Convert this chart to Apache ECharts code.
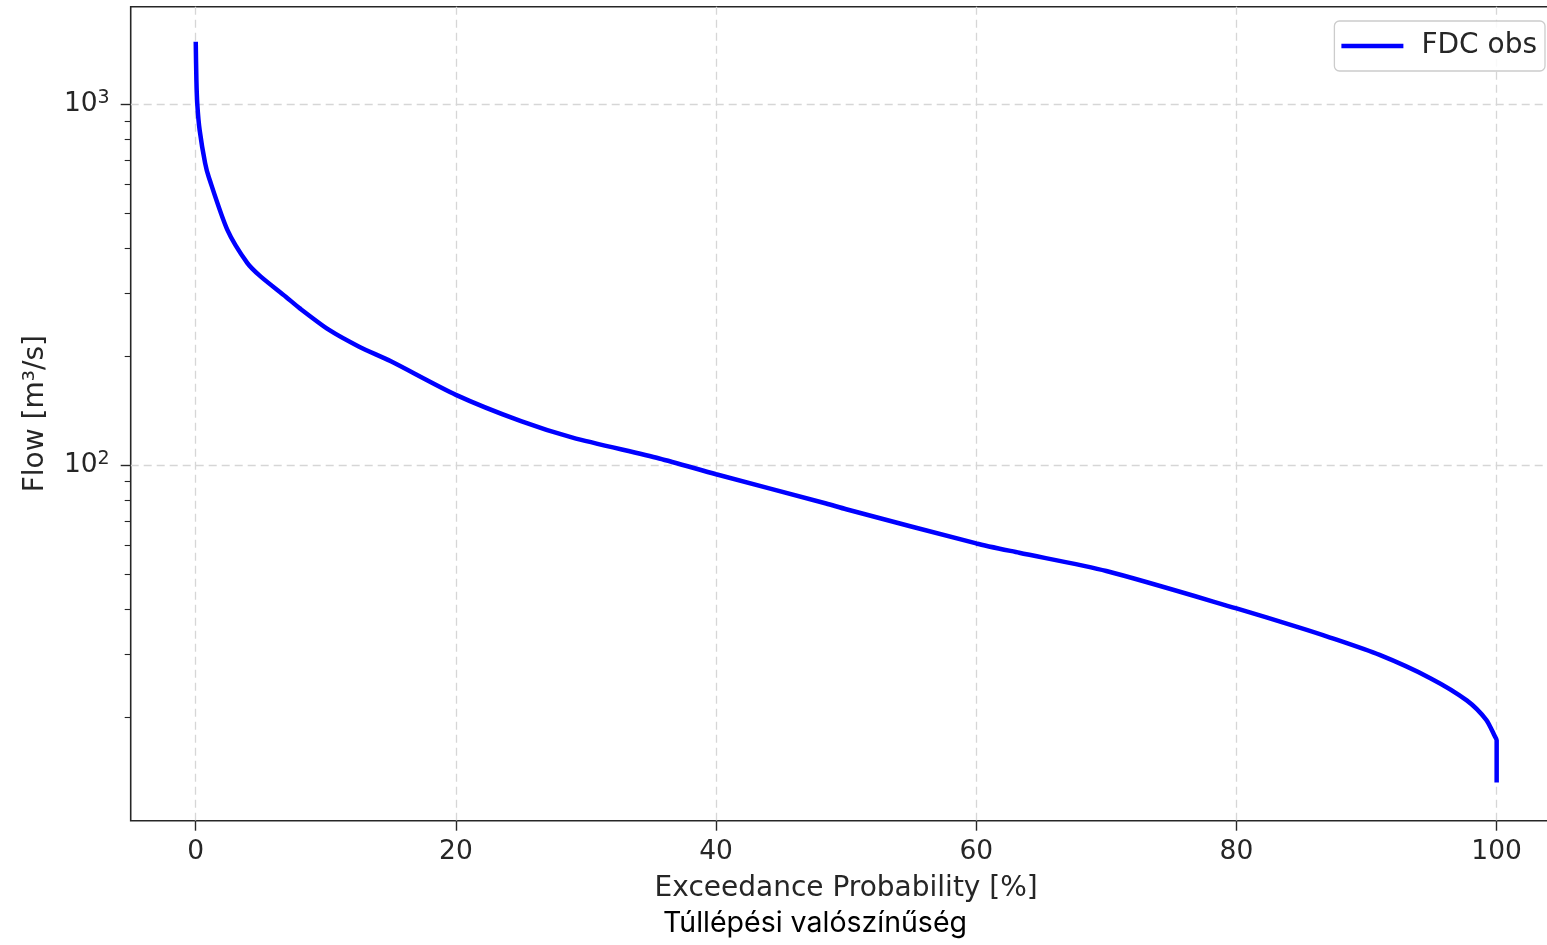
<!DOCTYPE html>
<html>
<head>
<meta charset="utf-8">
<title>Flow Duration Curve</title>
<script src="https://cdn.jsdelivr.net/npm/echarts@6/dist/echarts.min.js"></script>
<style>
  html, body { margin: 0; padding: 0; background: #ffffff; overflow: hidden; }
  #chart { width: 1547px; height: 945px; }
</style>
</head>
<body>
<div id="chart"></div>
<script>
// Observed flow duration curve: exceedance probability [%] vs. flow [m³/s]
const exceedance = [0, 0.05, 0.12, 0.3, 0.72, 1.0, 2.43, 3.97, 5, 6.92, 8, 10.25, 12.56, 15, 20, 25, 28.97, 35.63, 40, 48.46, 50, 60, 63.3, 70, 80, 84.6, 87.2, 91.0, 94.9, 97.7, 99.2, 99.87, 100, 100];
const flow = [1491, 1167, 1000, 848, 687, 629, 449, 363, 333, 293, 272, 237, 213, 194, 156.6, 132.4, 119.2, 104.4, 94.4, 78.3, 75.5, 60.7, 57.2, 50.9, 40.1, 35.7, 33.3, 29.8, 25.7, 22.3, 19.7, 17.7, 17.3, 13.2];

const xTicks = [0, 20, 40, 60, 80, 100];
const yMajorTicks = [100, 1000];
const yMinorTicks = [20, 30, 40, 50, 60, 70, 80, 90, 200, 300, 400, 500, 600, 700, 800, 900];

const seriesName = 'FDC obs';
const xTitle = 'Exceedance Probability [%]';
const yTitle = 'Flow [m³/s]';
const subCaption = 'Túllépési valószínűség';

const FONT = 'DejaVu Sans';
const INK = '#262626';

const points = exceedance.map((x, i) => [x, flow[i]]);

const chart = echarts.init(document.getElementById('chart'), null, { renderer: 'canvas' });

const gridLine = { show: true, lineStyle: { color: '#d6d6d6', width: 1.3, type: [8, 5] } };

chart.setOption({
  animation: false,
  backgroundColor: '#ffffff',
  grid: {
    left: 130.7, top: 6.7, width: 1431, height: 814,
    outerBoundsMode: 'none',
    show: true, borderColor: INK, borderWidth: 1.6, backgroundColor: 'transparent',
    containLabel: false
  },
  legend: {
    data: [seriesName],
    right: 2, top: 21,
    icon: 'rect',
    itemWidth: 62, itemHeight: 4.5,
    padding: [11, 8, 11, 7],
    borderColor: '#cccccc', borderWidth: 1.3, borderRadius: 5,
    backgroundColor: 'rgba(255,255,255,0.85)',
    textStyle: { fontFamily: FONT, fontSize: 28, color: INK, padding: [0, 0, 0, 13] }
  },
  xAxis: {
    type: 'value', min: -5, max: 105,
    name: xTitle, nameLocation: 'middle', nameGap: 54,
    nameTextStyle: { fontFamily: FONT, fontSize: 28, color: INK },
    axisLine: { show: false, onZero: false },
    axisTick: { show: true, length: 10, lineStyle: { color: INK, width: 1.4 }, customValues: xTicks },
    axisLabel: { fontFamily: FONT, fontSize: 26.5, color: INK, margin: 18, customValues: xTicks },
    splitLine: gridLine
  },
  yAxis: [
    {
      type: 'log', logBase: 10, min: 10.35, max: 1864,
      name: yTitle, nameLocation: 'middle', nameGap: 81, nameRotate: 90,
      nameTextStyle: { fontFamily: FONT, fontSize: 28, color: INK },
      axisLine: { show: false, onZero: false },
      axisTick: { show: true, length: 10, lineStyle: { color: INK, width: 1.4 }, customValues: yMajorTicks },
      axisLabel: {
        margin: 21, customValues: yMajorTicks,
        formatter: v => '{b|10}{s|' + Math.round(Math.log10(v)) + '}',
        rich: {
          b: { fontFamily: FONT, fontSize: 26.5, color: INK, lineHeight: 32 },
          s: { fontFamily: FONT, fontSize: 19, color: INK, verticalAlign: 'top', lineHeight: 22 }
        }
      },
      splitLine: gridLine
    },
    {
      type: 'log', logBase: 10, min: 10.35, max: 1864, position: 'left',
      axisLine: { show: false, onZero: false },
      axisTick: { show: true, length: 6, lineStyle: { color: INK, width: 1.1 }, customValues: yMinorTicks },
      axisLabel: { show: false },
      splitLine: { show: false }
    }
  ],
  graphic: [
    {
      type: 'text', left: 663, top: 909,
      style: { text: subCaption, fontFamily: 'Inter', fontSize: 28.5, fill: '#000000' }
    }
  ],
  series: [
    {
      name: seriesName, type: 'line', data: points,
      xAxisIndex: 0, yAxisIndex: 0,
      showSymbol: false, symbol: 'none',
      smooth: 0.25,
      lineStyle: { color: '#0000ff', width: 4.5 },
      itemStyle: { color: '#0000ff' },
      z: 3
    }
  ]
});
</script>
</body>
</html>
